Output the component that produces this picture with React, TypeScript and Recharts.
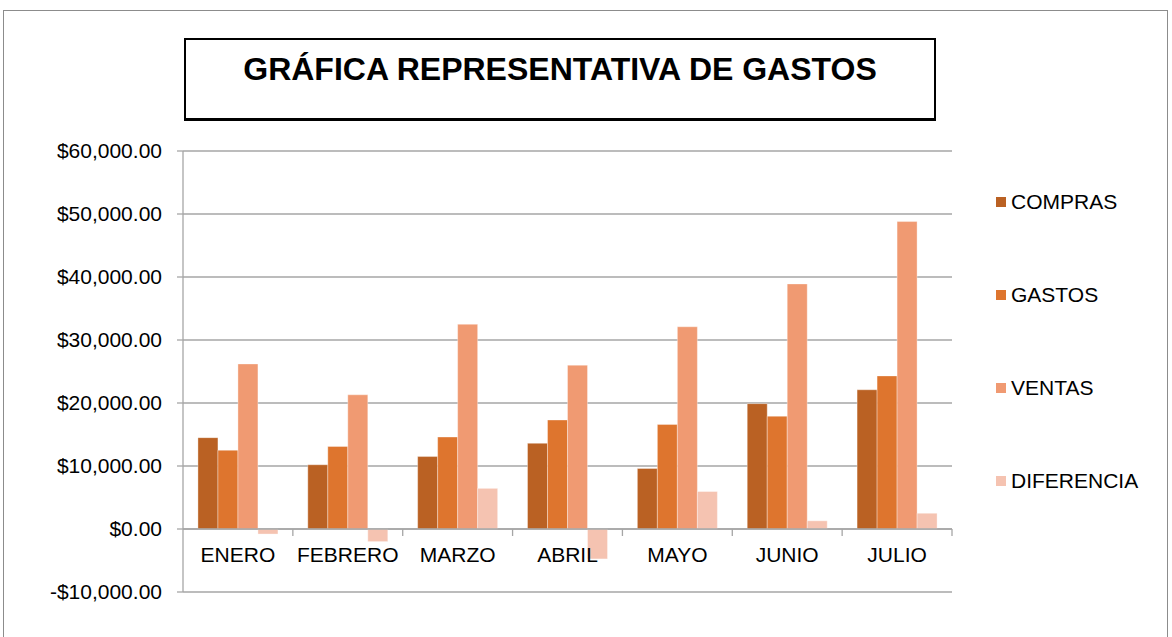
import { Bar, BarChart, CartesianGrid, ReferenceLine, XAxis, YAxis } from "recharts";

const months = ["ENERO", "FEBRERO", "MARZO", "ABRIL", "MAYO", "JUNIO", "JULIO"];
const compras = [14500, 10200, 11500, 13600, 9600, 19900, 22100];
const gastos = [12500, 13100, 14600, 17300, 16600, 17900, 24300];
const ventas = [26200, 21300, 32500, 26000, 32100, 38900, 48800];
const diferencia = [-800, -2000, 6450, -4750, 5950, 1300, 2500];
const yTicks = [-10000, 0, 10000, 20000, 30000, 40000, 50000, 60000];

const seriesNames = ["COMPRAS", "GASTOS", "VENTAS", "DIFERENCIA"];
const seriesColors = ["#ba6123", "#de752e", "#f09a72", "#f5c3b1"];

const data = months.map((m, i) => ({
  month: m,
  COMPRAS: compras[i],
  GASTOS: gastos[i],
  VENTAS: ventas[i],
  DIFERENCIA: diferencia[i],
}));

const FONT = "'Liberation Sans', Arial, sans-serif";
const GRID = "#a6a6a6";

// plot box: x 183..952, y 151..592 ; zero line sits at 151 + 441 * 6/7
const ZERO_Y = 151 + (441 * 6) / 7;
const BAND = (952 - 183) / 7;

function money(v: number) {
  const s = Math.abs(v).toLocaleString("en-US", { minimumFractionDigits: 2, maximumFractionDigits: 2 });
  return (v < 0 ? "-$" : "$") + s;
}

function MonthTick(props: any) {
  const { x, payload } = props;
  return (
    <g>
      <line x1={x + BAND / 2} x2={x + BAND / 2} y1={ZERO_Y} y2={ZERO_Y + 7} stroke={GRID} strokeWidth={1.3} />
      <text x={x} y={ZERO_Y + 25} dy="0.36em" textAnchor="middle" fontSize={21} fontFamily={FONT} fill="#000">
        {payload.value}
      </text>
    </g>
  );
}

export default function App() {
  return (
    <div style={{ position: "absolute", left: 0, top: 0, width: 1172, height: 637, overflow: "hidden", background: "#fff" }}>
      <div style={{ position: "absolute", left: 3, top: 10, width: 1163, height: 700, border: "1px solid #8c8c8c" }} />
      <div
        style={{
          position: "absolute",
          left: 184,
          top: 38,
          width: 748,
          height: 78,
          border: "2px solid #000",
          borderBottomWidth: 3,
          fontFamily: FONT,
          fontWeight: "bold",
          fontSize: 32,
          textAlign: "center",
          lineHeight: "58px",
        }}
      >
        GRÁFICA REPRESENTATIVA DE GASTOS
      </div>
      <div style={{ position: "absolute", left: 0, top: 0 }}>
        <BarChart
          width={1172}
          height={637}
          data={data}
          margin={{ top: 151, right: 220, bottom: 15, left: 0 }}
          barCategoryGap="13.6%"
          barGap={0}
        >
          <CartesianGrid vertical={false} stroke={GRID} strokeWidth={1.3} />
          <XAxis dataKey="month" height={30} axisLine={false} tickLine={false} tick={<MonthTick />} interval={0} />
          <YAxis
            width={183}
            domain={[-10000, 60000]}
            ticks={yTicks}
            tickFormatter={money}
            axisLine={{ stroke: GRID, strokeWidth: 1.3 }}
            tickLine={{ stroke: GRID, strokeWidth: 1.3 }}
            tickSize={6}
            tickMargin={15}
            tick={{ fill: "#000", fontSize: 21, fontFamily: FONT }}
          />
          <ReferenceLine y={0} stroke={GRID} strokeWidth={1.3} />
          {seriesNames.map((name, i) => (
            <Bar key={name} dataKey={name} fill={seriesColors[i]} stroke="rgba(255,255,255,0.35)" isAnimationActive={false} />
          ))}
        </BarChart>
      </div>
      <div style={{ position: "absolute", left: 996, top: 155, fontFamily: FONT, fontSize: 21, color: "#000" }}>
        {seriesNames.map((name, i) => (
          <div key={name} style={{ height: 93, display: "flex", alignItems: "center" }}>
            <span style={{ width: 10, height: 10, background: seriesColors[i], display: "inline-block", marginRight: 5 }} />
            <span>{name}</span>
          </div>
        ))}
      </div>
    </div>
  );
}
